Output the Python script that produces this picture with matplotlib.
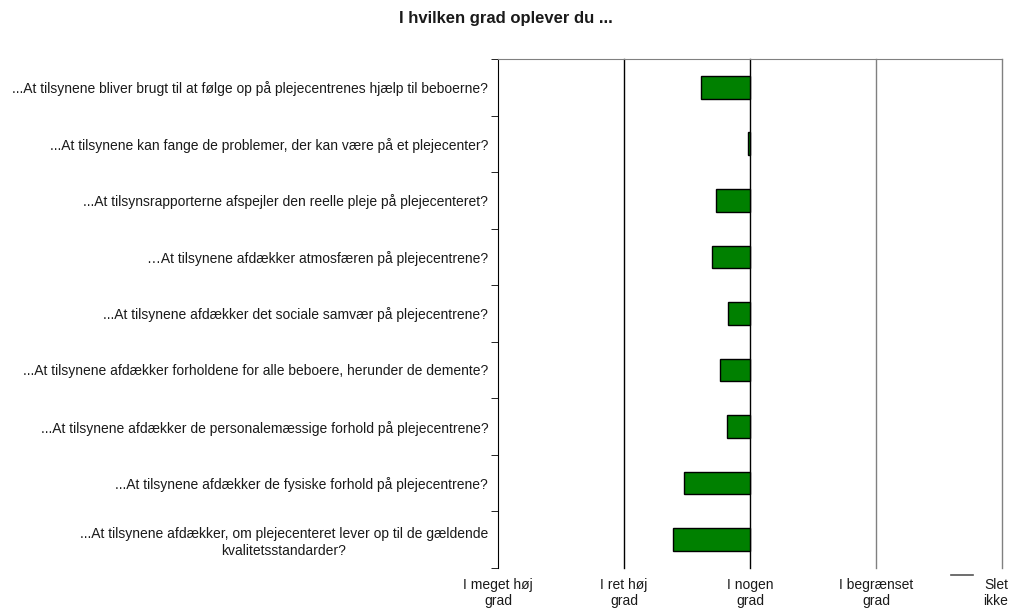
import matplotlib
matplotlib.use("Agg")
import matplotlib.pyplot as plt
from matplotlib.lines import Line2D
from matplotlib.transforms import ScaledTranslation

plt.rcParams['font.family'] = ['Liberation Sans', 'DejaVu Sans']

categories = [
    "...At tilsynene bliver brugt til at følge op på plejecentrenes hjælp til beboerne?",
    "...At tilsynene kan fange de problemer, der kan være på et plejecenter?",
    "...At tilsynsrapporterne afspejler den reelle pleje på plejecenteret?",
    "…At tilsynene afdækker atmosfæren på plejecentrene?",
    "...At tilsynene afdækker det sociale samvær på plejecentrene?",
    "...At tilsynene afdækker forholdene for alle beboere, herunder de demente?",
    "...At tilsynene afdækker de personalemæssige forhold på plejecentrene?",
    "...At tilsynene afdækker de fysiske forhold på plejecentrene?",
    "...At tilsynene afdækker, om plejecenteret lever op til de gældende\nkvalitetsstandarder?",
]
values = [2.61, 2.985, 2.73, 2.70, 2.83, 2.76, 2.82, 2.48, 2.39]
baseline = 3
tick_values = [1, 2, 3, 4, 5]
tick_labels = ["I meget høj\ngrad", "I ret høj\ngrad", "I nogen\ngrad", "I begrænset\ngrad", "Slet\nikke"]
title = "I hvilken grad oplever du ..."

txt_color = "#1a1a1a"

fig = plt.figure(figsize=(10.12, 6.08), dpi=100)
ax = fig.add_axes([0.492, 0.066, 0.498, 0.837])

n = len(categories)
ys = list(range(n))
ax.barh(ys, [v - baseline for v in values], left=baseline, height=0.4,
        color="#008000", edgecolor="black", linewidth=1.0, zorder=3)

ax.set_xlim(1, 5)
ax.set_ylim(n - 0.5, -0.5)

# vertical gridlines
for v in tick_values[1:]:
    col = "black" if v <= 3 else "#808080"
    ax.axvline(v, color=col, linewidth=1.0, zorder=1, clip_on=False)

ax.set_xticks(tick_values)
ax.set_xticklabels(tick_labels, fontsize=10, color=txt_color)
ax.tick_params(axis='x', length=0, pad=7)
last = ax.get_xticklabels()[-1]
last.set_transform(last.get_transform() + ScaledTranslation(-6 / 100, 0, fig.dpi_scale_trans))

ax.set_yticks(ys)
ax.set_yticklabels(categories, fontsize=10, color=txt_color, multialignment='center',
                   linespacing=1.3)
ax.tick_params(axis='y', which='major', length=0, pad=7)
ax.set_yticks([i - 0.5 for i in range(n + 1)], minor=True)
ax.tick_params(axis='y', which='minor', length=5, direction='out', color='black')

for s in ['right', 'bottom']:
    ax.spines[s].set_visible(False)
ax.spines['top'].set_color('#808080')
ax.spines['left'].set_color('black')

fig.text(0.5, 0.969, title, ha='center', va='center', fontsize=12, fontweight='bold',
         color=txt_color)

fig.add_artist(Line2D([0.940, 0.961], [0.054, 0.054], color='#555555', linewidth=1.2,
                      transform=fig.transFigure))

fig.savefig("out.png", dpi=100)
